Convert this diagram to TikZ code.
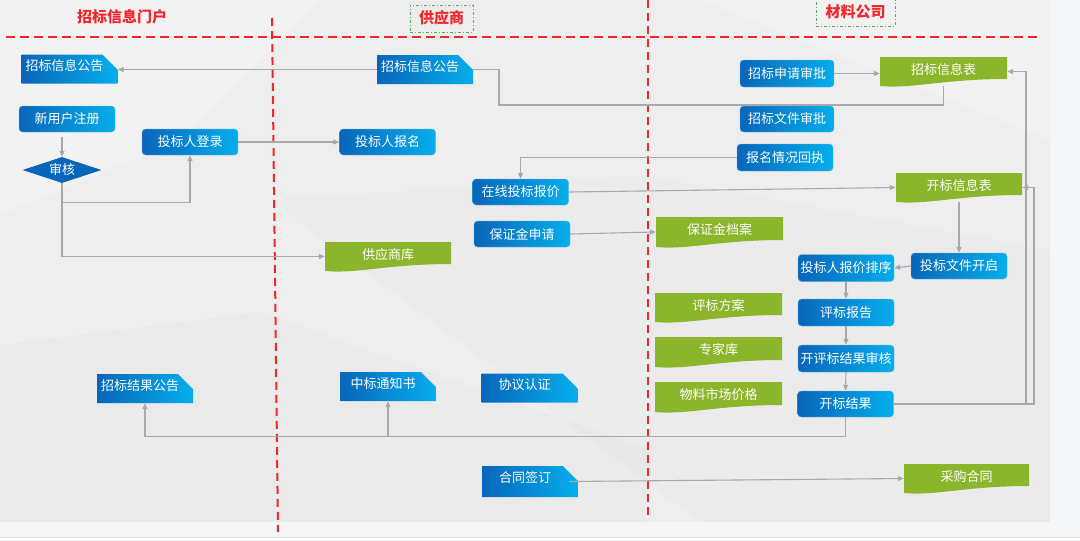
\documentclass[tikz,border=0pt]{standalone}
\usepackage{fontspec}
\newfontfamily\cjk{Noto Sans CJK SC}
\usetikzlibrary{arrows.meta,shapes.geometric,calc}
\definecolor{bdark}{HTML}{0866BA}
\definecolor{bmid}{HTML}{0A72C4}
\definecolor{blight}{HTML}{05AEEC}
\definecolor{bedge}{HTML}{5FB8EA}
\definecolor{gfill}{HTML}{8BB52B}
\definecolor{lgray}{HTML}{A9A9A9}
\definecolor{lred}{HTML}{F2262B}
\definecolor{tgreen}{HTML}{4FAE5C}
\definecolor{panelbg}{HTML}{EEEEEF}
\definecolor{outerbg}{HTML}{F5F6F7}
\newcommand\doctext[1]{\makebox[86pt]{#1}\kern10pt}
\tikzset{
  boxfont/.style={font=\cjk\fontsize{13}{15}\selectfont},
  bluebox/.style={rectangle, rounded corners=3.5pt, left color=bdark, middle color=bmid, right color=blight,
    draw=bedge, line width=0.4pt,
    text=white, boxfont, inner sep=0pt, minimum width=96pt, minimum height=26pt},
  greenbox/.style={rectangle, inner sep=0pt, text=white, boxfont, minimum width=126pt,
    text height=17pt, text depth=12pt,
    path picture={\fill[gfill] (path picture bounding box.north west) -- (path picture bounding box.north east)
      -- ([yshift=7pt]path picture bounding box.south east)
      .. controls ([yshift=7pt]path picture bounding box.south) and ([yshift=-3pt]$(path picture bounding box.south west)!0.5!(path picture bounding box.south)$)
      .. (path picture bounding box.south west) -- cycle;}},
  docbox/.style={rectangle, inner sep=0pt, text=white, boxfont, text height=16pt, text depth=13pt,
    path picture={\shade[left color=bdark, middle color=bmid, right color=blight]
      (path picture bounding box.north west) -- ([xshift=-15pt]path picture bounding box.north east)
      -- ([yshift=-15pt]path picture bounding box.north east) -- (path picture bounding box.south east)
      -- (path picture bounding box.south west) -- cycle;}},
  lanetitle/.style={text=lred, font=\cjk\bfseries\fontsize{15}{17}\selectfont, inner sep=0pt},
  titlebox/.style={draw=tgreen, line width=0.9pt, dash pattern=on 3pt off 2pt on 1pt off 2pt},
  conn/.style={draw=lgray, line width=1.1pt},
  arr/.style={conn, -{Triangle[length=6pt,width=5pt]}},
  lanehline/.style={draw=lred, line width=2pt, dash pattern=on 9pt off 5pt},
  lanevline/.style={draw=lred, line width=2pt, dash pattern=on 8pt off 5pt},
}
\begin{document}
\begin{tikzpicture}[x=1pt,y=-1pt]
\useasboundingbox (0,0) rectangle (1080,541);
% background
\fill[white] (0,0) rectangle (1080,541);
\fill[outerbg] (0,0) rectangle (1080,537);
\fill[panelbg] (0,0) rectangle (1050,522);
\fill[white, opacity=0.25] (0,0) -- (320,0) -- (180,140) -- (0,215) -- cycle;
\fill[black, opacity=0.015] (0,345) -- (260,312) -- (650,450) -- (645,522) -- (0,522) -- cycle;
\fill[black, opacity=0.012] (270,200) -- (640,175) -- (1050,250) -- (1050,522) -- (700,522) -- cycle;
\fill[white, opacity=0.25] (700,0) -- (1050,0) -- (1050,140) -- cycle;
\draw[black!12, line width=0.8pt] (0,537.5) -- (1080,537.5);

% lane lines
\draw[lanehline] (6,37) -- (1040,37);
\draw[lanevline] (272,18) -- (278,532);
\draw[lanevline] (648,0) -- (648,516);

% lane titles
\node[lanetitle] (t1) at (122,17) {招标信息门户};
\node[titlebox, minimum width=63pt, minimum height=27pt, inner sep=0pt] (t2box) at (441.5,18.5) {};
\node[lanetitle] (t2) at (441.5,17.5) {供应商};
\node[titlebox, minimum width=79pt, minimum height=29pt, inner sep=0pt] (t3box) at (855.5,11.5) {};
\node[lanetitle] (t3) at (855.5,12) {材料公司};

% portal lane
\node[docbox] (pa) at (69.5,69) {\doctext{招标信息公告}};
\node[bluebox] (reg) at (67,119) {新用户注册};
\node[diamond, aspect=3, fill=bdark, text=white, boxfont, inner sep=0pt, minimum width=79pt, minimum height=26pt] (aud) at (62,170) {审核};
\node[bluebox] (login) at (190,142) {投标人登录};
\node[docbox] (rpub) at (145,388.5) {\doctext{招标结果公告}};

% supplier lane
\node[docbox] (pb) at (425,69.5) {\doctext{招标信息公告}};
\node[bluebox] (signup) at (387.5,142) {投标人报名};
\node[greenbox] (slib) at (388,256.5) {供应商库};
\node[bluebox] (online) at (520.5,192) {在线投标报价};
\node[bluebox] (depapp) at (522,234) {保证金申请};
\node[docbox] (notice) at (388,386.5) {\doctext{中标通知书}};
\node[docbox] (agree) at (529.5,388) {\doctext{协议认证}};
\node[docbox, text depth=15pt] (sign) at (530,481.5) {\doctext{合同签订}};

% company lane
\node[bluebox, minimum width=94pt, minimum height=27pt] (appr) at (787,73.5) {招标申请审批};
\node[greenbox, minimum width=127pt] (tinfo) at (943.5,71.5) {招标信息表};
\node[bluebox, minimum width=94pt] (docappr) at (787,119) {招标文件审批};
\node[bluebox, minimum height=27pt] (receipt) at (785,157.5) {报名情况回执};
\node[greenbox] (oinfo) at (959,187.5) {开标信息表};
\node[greenbox, minimum width=127pt, text depth=13pt] (deparch) at (719.5,232) {保证金档案};
\node[bluebox] (fopen) at (959,266) {投标文件开启};
\node[bluebox, minimum height=27pt] (rank) at (846,268) {投标人报价排序};
\node[bluebox, minimum height=27pt] (report) at (846,312.5) {评标报告};
\node[bluebox, minimum height=27pt] (review) at (846,358.5) {开评标结果审核};
\node[bluebox] (result) at (845.5,404) {开标结果};
\node[greenbox, minimum width=127pt] (plan) at (718.5,307.5) {评标方案};
\node[greenbox, minimum width=127pt, text depth=13pt] (expert) at (718.5,352) {专家库};
\node[greenbox, minimum width=127pt, text depth=13pt] (price) at (718.5,397) {物料市场价格};
\node[greenbox, minimum width=125pt] (contract) at (966.5,478.5) {采购合同};

% connectors
\coordinate (b2) at (499,105);
\coordinate (r1) at (1026,404);
\coordinate (r2) at (1034,404);
\draw[arr] (pb.west) -- (pa.east |- pb.west);
\draw[conn] (tinfo.south) |- (b2) |- (pb.east);
\draw[arr, shorten <=5pt] (aud.north |- reg.south) -- (aud.north);
\draw[arr] (aud.south) -- ++(0,19) -| (login.south);
\draw[arr] (aud.south) |- (slib.west);
\draw[arr] (login.east) -- (signup.west);
\draw[arr] (receipt.west) -| (online.north);
\draw[arr] (online.east) -- (oinfo.west);
\draw[arr] (depapp.east) -- (deparch.west);
\draw[arr] (appr.east) -- (appr.east -| tinfo.west);
\draw[arr] (oinfo.south) -- (fopen.north);
\draw[arr] (fopen.west) -- (rank.east);
\draw[arr] (rank.south) -- (report.north);
\draw[arr] (report.south) -- (review.north);
\draw[arr] (review.south) -- (result.north);
\draw[arr] (result.east) -- (r1) |- (tinfo.east);
\draw[arr] (result.east) -- (r2) |- (oinfo.east);
\coordinate (jb) at ($(result.south)+(0,19)$);
\draw[arr] (result.south) -- (jb) -| (rpub.south);
\draw[arr] (jb -| notice.south) -- (notice.south);
\draw[arr] ([xshift=-9pt]sign.east) -- (contract.west);
\end{tikzpicture}
\end{document}
